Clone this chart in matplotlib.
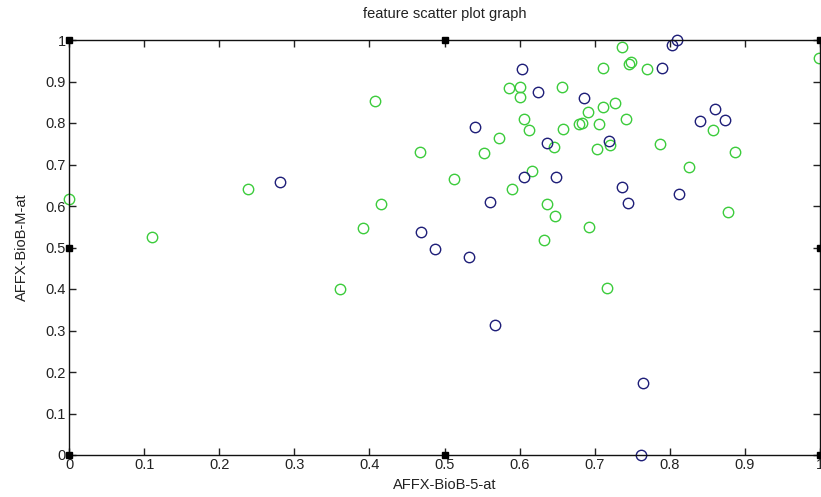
import matplotlib
matplotlib.use('Agg')
import matplotlib.pyplot as plt

# feature values (class 1 = green, class 2 = blue)
green_x = [0.000, 0.111, 0.238, 0.361, 0.392, 0.408, 0.415, 0.467, 0.513, 0.552,
           0.572, 0.586, 0.590, 0.600, 0.601, 0.606, 0.613, 0.616, 0.633, 0.637,
           0.646, 0.647, 0.656, 0.658, 0.679, 0.683, 0.691, 0.692, 0.703, 0.706,
           0.711, 0.711, 0.716, 0.720, 0.727, 0.737, 0.742, 0.746, 0.749, 0.769,
           0.787, 0.826, 0.857, 0.878, 0.887, 0.999]
green_y = [0.617, 0.525, 0.641, 0.399, 0.546, 0.854, 0.605, 0.731, 0.666, 0.727,
           0.765, 0.884, 0.642, 0.886, 0.862, 0.809, 0.783, 0.685, 0.518, 0.605,
           0.743, 0.577, 0.887, 0.786, 0.798, 0.799, 0.826, 0.549, 0.737, 0.798,
           0.933, 0.838, 0.402, 0.746, 0.847, 0.982, 0.809, 0.943, 0.946, 0.929,
           0.749, 0.695, 0.783, 0.586, 0.730, 0.956]

blue_x = [0.281, 0.469, 0.488, 0.533, 0.540, 0.560, 0.567, 0.603, 0.606, 0.625,
          0.637, 0.648, 0.686, 0.719, 0.736, 0.744, 0.762, 0.764, 0.790, 0.803,
          0.810, 0.812, 0.840, 0.860, 0.874]
blue_y = [0.658, 0.537, 0.496, 0.478, 0.791, 0.610, 0.313, 0.929, 0.671, 0.875,
          0.753, 0.671, 0.860, 0.757, 0.645, 0.608, 0.000, 0.174, 0.933, 0.989,
          1.001, 0.628, 0.804, 0.834, 0.807]

ticks = [0, 0.1, 0.2, 0.3, 0.4, 0.5, 0.6, 0.7, 0.8, 0.9, 1]
tick_labels = ['0', '0.1', '0.2', '0.3', '0.4', '0.5', '0.6', '0.7', '0.8', '0.9', '1']

plt.rcParams['font.family'] = ['Liberation Sans', 'DejaVu Sans']

fig = plt.figure(figsize=(8.21, 4.97), dpi=100)
ax = fig.add_axes([69 / 821, 1 - 455 / 497, 751 / 821, 415 / 497])

ax.plot(green_x, green_y, 'o', markerfacecolor='none', markeredgecolor='#3ccc3c',
        markersize=7.5, markeredgewidth=1.0, linestyle='none', clip_on=False)
ax.plot(blue_x, blue_y, 'o', markerfacecolor='none', markeredgecolor='#1e1e78',
        markersize=7.5, markeredgewidth=1.0, linestyle='none', clip_on=False)

ax.set_xlim(0, 1)
ax.set_ylim(0, 1)
ax.set_xticks(ticks)
ax.set_xticklabels(tick_labels)
ax.set_yticks(ticks)
ax.set_yticklabels(tick_labels)
ax.tick_params(direction='in', length=5, width=1, top=True, right=True,
               labelsize=10.5, colors='#222222', pad=2.5)
for s in ax.spines.values():
    s.set_linewidth(1.0)
    s.set_color('#111111')

# figure-edit selection handles at corners and edge midpoints
for hx in [0, 0.5, 1]:
    for hy in [0, 0.5, 1]:
        if hx == 0.5 and hy == 0.5:
            continue
        ax.plot(hx, hy, 's', color='black', markersize=5, transform=ax.transAxes,
                clip_on=False, zorder=5)

ax.set_title('feature scatter plot graph', fontsize=10.5, color='#222222', pad=16)
ax.set_xlabel('AFFX-BioB-5-at', fontsize=10.5, color='#222222', labelpad=4)
ax.set_ylabel('AFFX-BioB-M-at', fontsize=10.5, color='#222222', labelpad=12)

plt.savefig('out.png', dpi=100)
plt.close()
